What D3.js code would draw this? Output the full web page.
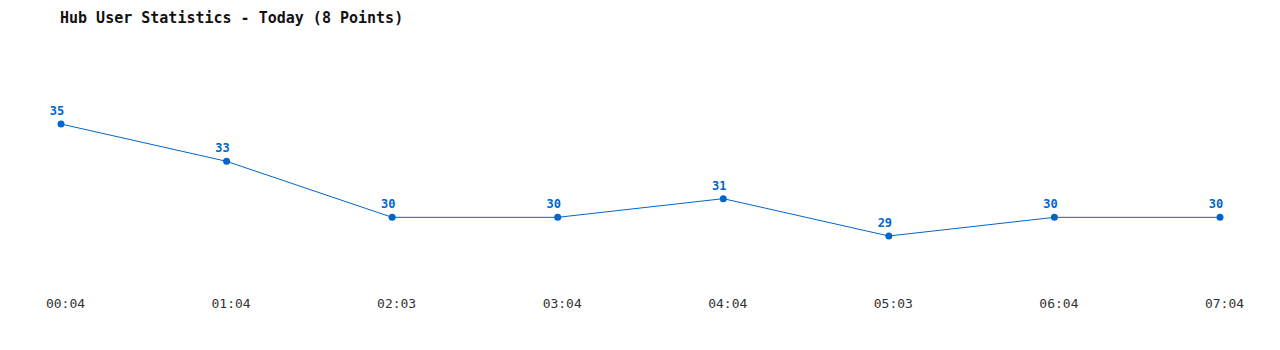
<!DOCTYPE html>
<html>
<head>
  <meta charset='utf-8'>
  <title>Hub User Statistics</title>
  <script src="https://cdnjs.cloudflare.com/ajax/libs/d3/7.8.5/d3.min.js"></script>
  <style>
    body { margin: 0; background: #fff; }
    text { font-family: 'DejaVu Sans Mono', 'Liberation Mono', monospace; }
  </style>
</head>
<body>
  <svg id="chart"></svg>
  <script>
    // data
    const times = ["00:04", "01:04", "02:03", "03:04", "04:04", "05:03", "06:04", "07:04"];
    const users = [35, 33, 30, 30, 31, 29, 30, 30];

    const width = 1280;
    const height = 350;
    const lineColor = "#0066cc";

    const svg = d3.select('#chart')
      .attr('width', width)
      .attr('height', height);

    svg.append('text')
      .attr('x', 60)
      .attr('y', 23)
      .style('font-size', '15px')
      .style('font-weight', 'bold')
      .attr('fill', '#111')
      .text('Hub User Statistics - Today (' + users.length + ' Points)');

    const x = d3.scalePoint()
      .domain(times)
      .range([61, 1220]);

    const y = d3.scaleLinear()
      .domain([29, 35])
      .range([236, 124]);

    // time labels along the bottom, a bit right of the points
    svg.append('g')
      .selectAll('text')
      .data(times)
      .join('text')
      .attr('x', d => x(d) + 4.5)
      .attr('y', 308)
      .attr('text-anchor', 'middle')
      .style('font-size', '13px')
      .attr('fill', '#333')
      .text(d => d);

    const pts = times.map((t, i) => ({ t, v: users[i] }));

    const line = d3.line()
      .x(d => x(d.t))
      .y(d => y(d.v));

    svg.append('path')
      .datum(pts)
      .attr('d', line)
      .attr('fill', 'none')
      .attr('stroke', lineColor)
      .attr('stroke-width', 1);

    svg.append('g')
      .selectAll('circle')
      .data(pts)
      .join('circle')
      .attr('cx', d => x(d.t))
      .attr('cy', d => y(d.v))
      .attr('r', 3.5)
      .attr('fill', lineColor);

    svg.append('g')
      .selectAll('text')
      .data(pts)
      .join('text')
      .attr('x', d => x(d.t) - 4)
      .attr('y', d => y(d.v) - 9)
      .attr('text-anchor', 'middle')
      .style('font-size', '12px')
      .style('font-weight', 'bold')
      .attr('fill', lineColor)
      .text(d => d.v);
  </script>
</body>
</html>
